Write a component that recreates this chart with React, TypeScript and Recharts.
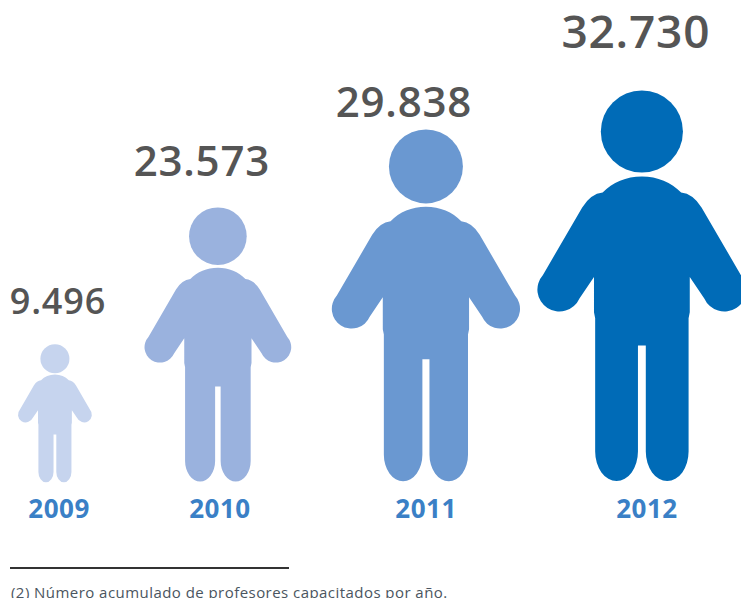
import { BarChart, Bar, XAxis, YAxis, LabelList } from 'recharts';

const years = ['2009', '2010', '2011', '2012'];
const teachers = [9496, 23573, 29838, 32730];

const figureColors = ['#C6D4EE', '#9AB2DE', '#6A98D1', '#006BB7'];

// figures are not evenly spaced, each one is shifted from the centre of its band
const figureShift = [-37.6, -59.9, -37.1, -6.4];
const yearShift = [-33.6, -57.9, -37.1, -1.4];
const valueShift = [-34.6, -75.9, -59.1, -12.4];
const valueLift = [30, 31, 12, 42];
const valueSize = [36, 42, 42, 46];

const chartData = years.map((year, i) => ({ year, teachers: teachers[i] }));

const DOMAIN_MAX = 39000;

// Figures start from a base height and then grow with value^1.5,
// so a plain linear axis can't be used here
function figureScale() {
  let domain = [0, DOMAIN_MAX];
  let range = [483, 0];
  const scale: any = (v: number) => {
    if (v <= domain[0]) return range[0];
    const t = 0.19 + 0.81 * Math.pow(v / domain[1], 1.5);
    return range[0] + (range[1] - range[0]) * t;
  };
  scale.domain = (d?: number[]) => {
    if (!d) return domain;
    domain = [...d];
    return scale;
  };
  scale.range = (r?: number[]) => {
    if (!r) return range;
    range = [...r];
    return scale;
  };
  scale.ticks = () => domain;
  scale.tickFormat = () => (v: number) => String(v);
  scale.copy = () => {
    const next: any = figureScale();
    next.domain(domain);
    next.range(range);
    return next;
  };
  return scale;
}

// body outline on a 100 unit tall box, x = 0 is the middle of the figure
const BODY =
  'M0 21.9 C-4 21.9 -7.5 23.4 -10 26 Q-13 26.3 -15.2 29.8 L-25.2 47 ' +
  'A5.6 5.6 0 1 0 -15.9 53 L-12.2 47.5 L-12.2 56.5 L-11.9 58 L-11.9 92 ' +
  'A5.45 7.5 0 0 0 -1 92 L-1 65 L1 65 L1 92 ' +
  'A5.45 7.5 0 0 0 11.9 92 L11.9 58 L12.2 56.5 L12.2 47.5 L15.9 53 ' +
  'A5.6 5.6 0 1 0 25.2 47 L15.2 29.8 Q13 26.3 10 26 C7.5 23.4 4 21.9 0 21.9 Z';

const PersonShape = (props: any) => {
  const { x, y, width, height, index } = props;
  const cx = x + width / 2 + figureShift[index];
  return (
    <g transform={`translate(${cx} ${y}) scale(${height / 100})`} fill={figureColors[index]}>
      <circle cx={0} cy={10.46} r={10.46} />
      <path d={BODY} />
    </g>
  );
};

const ValueLabel = (props: any) => {
  const { x, y, width, value, index } = props;
  return (
    <text
      x={x + width / 2 + valueShift[index]}
      y={y - valueLift[index]}
      textAnchor="middle"
      fontFamily="'Open Sans', sans-serif"
      fontWeight={600}
      fontSize={valueSize[index]}
      letterSpacing={0.8}
      fill="#555555"
    >
      {String(value).replace(/\B(?=(\d{3})+$)/g, '.')}
    </text>
  );
};

const YearTick = (props: any) => {
  const { x, payload, index } = props;
  return (
    <text
      x={x + yearShift[index]}
      y={518}
      textAnchor="middle"
      fontFamily="'Open Sans', sans-serif"
      fontWeight={700}
      fontSize={26}
      letterSpacing={0.5}
      fill="#3A80C6"
    >
      {payload.value}
    </text>
  );
};

export default function App() {
  return (
    <div style={{ position: 'absolute', left: 0, top: 0, width: 741, height: 598, overflow: 'hidden', background: '#fff' }}>
      <BarChart
        width={741}
        height={598}
        data={chartData}
        margin={{ top: 0, right: 0, bottom: 55, left: 0 }}
      >
        <XAxis dataKey="year" height={60} axisLine={false} tickLine={false} tick={YearTick} interval={0} />
        <YAxis hide width={0} domain={[0, DOMAIN_MAX]} scale={figureScale() as any} />
        <Bar dataKey="teachers" shape={PersonShape} isAnimationActive={false}>
          <LabelList dataKey="teachers" content={ValueLabel} />
        </Bar>
      </BarChart>
      <div style={{ position: 'absolute', left: 10, top: 567, width: 279, height: 2, background: '#333' }} />
      <div
        style={{
          position: 'absolute',
          left: 11,
          top: 582,
          fontFamily: "'Open Sans', sans-serif",
          fontSize: 15,
          letterSpacing: 0.45,
          lineHeight: '20px',
          whiteSpace: 'nowrap',
          color: '#4A5560',
        }}
      >
        (2) Número acumulado de profesores capacitados por año.
      </div>
    </div>
  );
}
